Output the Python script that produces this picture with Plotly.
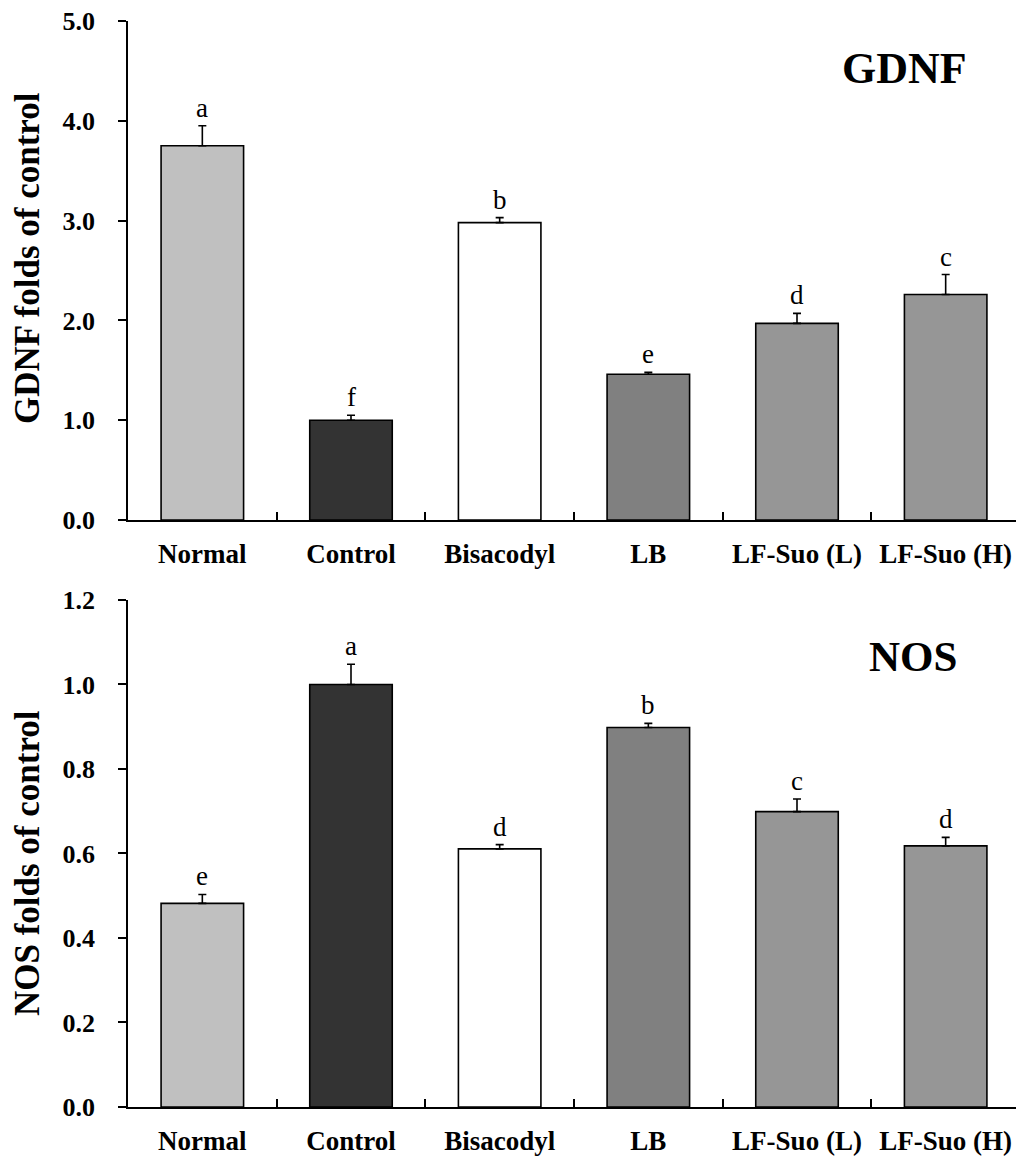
import plotly.graph_objects as go
from plotly.subplots import make_subplots

# Data
groups = ["Normal", "Control", "Bisacodyl", "LB", "LF-Suo (L)", "LF-Suo (H)"]

gdnf_mean = [3.75, 1.00, 2.98, 1.46, 1.97, 2.26]
gdnf_err = [0.20, 0.05, 0.05, 0.02, 0.10, 0.20]
gdnf_sig = ["a", "f", "b", "e", "d", "c"]

nos_mean = [0.482, 1.00, 0.611, 0.898, 0.699, 0.618]
nos_err = [0.021, 0.048, 0.010, 0.010, 0.030, 0.020]
nos_sig = ["e", "a", "d", "b", "c", "d"]

bar_colors = ["#c0c0c0", "#333333", "#ffffff", "#808080", "#969696", "#969696"]

serif = "Liberation Serif, Times New Roman, serif"

fig = make_subplots(rows=2, cols=1)

panels = [
    (1, gdnf_mean, gdnf_err, gdnf_sig, [0, 5.0], 1.0, [0.5405, 1.0]),
    (2, nos_mean, nos_err, nos_sig, [0, 1.2], 0.2, [0.0, 0.4669]),
]

for row, means, errs, sigs, yrange, dtick, dom in panels:
    fig.add_trace(
        go.Bar(
            x=groups, y=means, width=0.555,
            marker=dict(color=bar_colors, line=dict(color="black", width=1.6)),
            error_y=dict(type="data", array=errs, arrayminus=[0] * len(errs),
                         symmetric=False, color="black", thickness=1.6, width=4),
            showlegend=False,
        ),
        row=row, col=1,
    )
    # significance letters above error bars
    for g, m, e, s in zip(groups, means, errs, sigs):
        fig.add_annotation(
            x=g, y=m + e, text=s, showarrow=False, yanchor="bottom", yshift=1,
            font=dict(family=serif, size=27, color="black"),
            row=row, col=1,
        )
    fig.update_yaxes(
        range=yrange, dtick=dtick, tickformat=".1f", domain=dom, automargin=False,
        ticklabeloverflow="allow",
        showline=True, linecolor="black", linewidth=1.6,
        ticks="outside", ticklen=8, tickwidth=1.6, tickcolor="black",
        ticklabelstandoff=18,
        showgrid=False, zeroline=False,
        tickfont=dict(family=serif, size=26, color="black", weight="bold"),
        row=row, col=1,
    )
    fig.update_xaxes(
        range=[-0.5, 5.5], tickson="boundaries", automargin=False,
        showline=True, linecolor="black", linewidth=1.6,
        ticks="inside", ticklen=8, tickwidth=1.6, tickcolor="black",
        ticklabelstandoff=9,
        showgrid=False,
        tickfont=dict(family=serif, size=27, color="black", weight="bold"),
        row=row, col=1,
    )

# panel labels
fig.add_annotation(x=0.871, y=0.9567, xref="paper", yref="paper", xanchor="center",
                   yanchor="middle", text="<b>GDNF</b>", showarrow=False,
                   font=dict(family=serif, size=44, color="black"))
fig.add_annotation(x=0.880, y=0.4144, xref="paper", yref="paper", xanchor="center",
                   yanchor="middle", text="<b>NOS</b>", showarrow=False,
                   font=dict(family=serif, size=43, color="black"))

# y-axis titles
fig.add_annotation(x=-0.112, y=0.7818, xref="paper", yref="paper", xanchor="center",
                   yanchor="middle", text="<b>GDNF folds of control</b>", textangle=-90,
                   showarrow=False, font=dict(family=serif, size=35, color="black"))
fig.add_annotation(x=-0.112, y=0.2247, xref="paper", yref="paper", xanchor="center",
                   yanchor="middle", text="<b>NOS folds of control</b>", textangle=-90,
                   showarrow=False, font=dict(family=serif, size=35, color="black"))

fig.update_layout(
    width=1016, height=1149,
    margin=dict(l=120, r=4, t=13, b=50),
    plot_bgcolor="white", paper_bgcolor="white",
)

fig.write_html("out.html")
